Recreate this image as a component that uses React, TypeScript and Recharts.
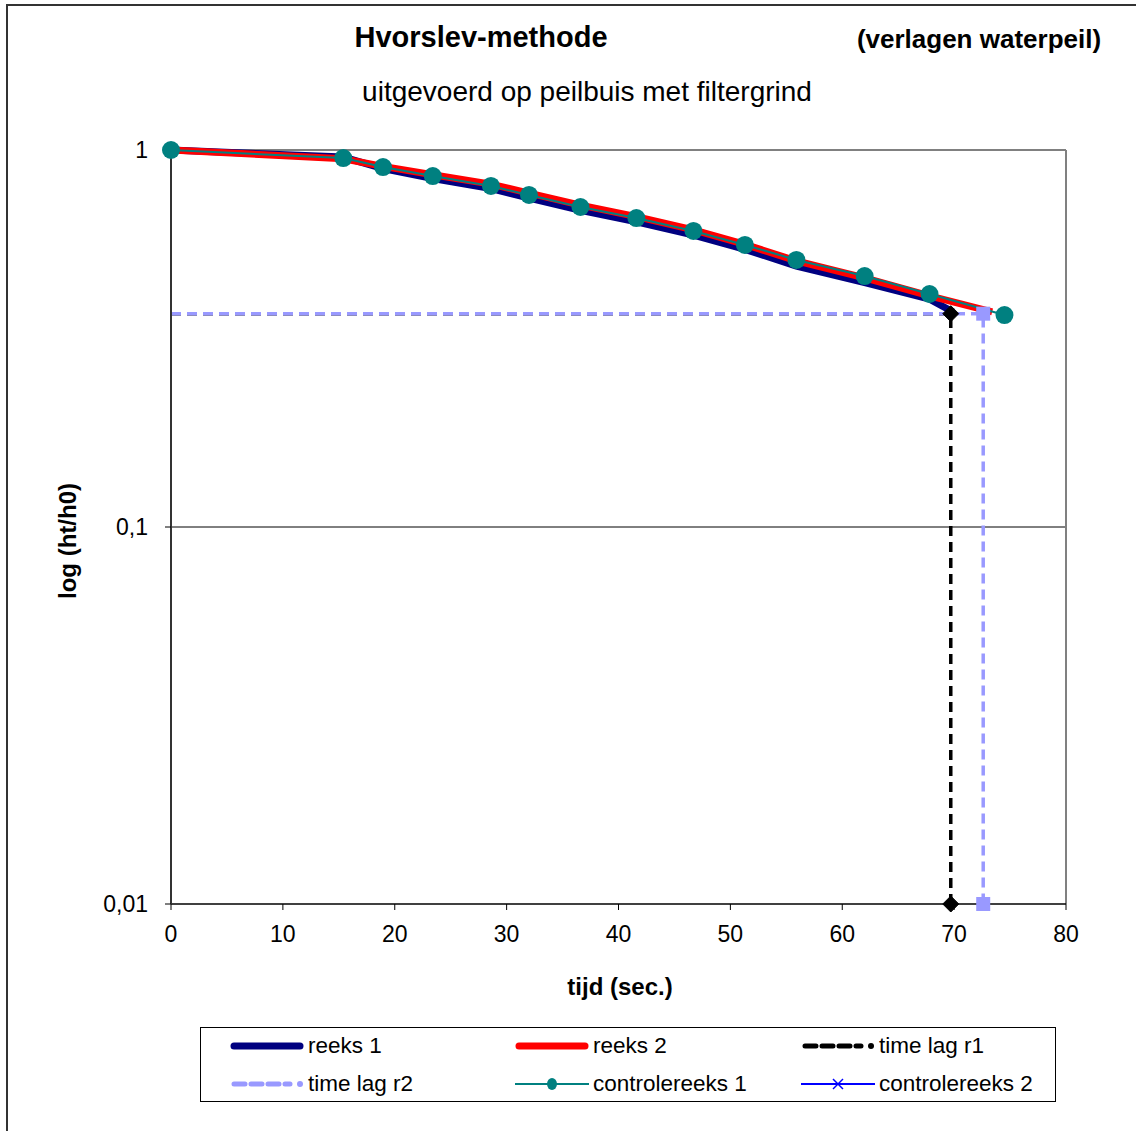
import React from 'react';
import { LineChart, Line, XAxis, YAxis, ReferenceLine } from 'recharts';

const xTicks = [0, 10, 20, 30, 40, 50, 60, 70, 80];
const yTicks = [0.01, 0.1, 1];

const timesC1 = [0, 15.4, 18.95, 23.4, 28.6, 32.0, 36.6, 41.6, 46.7, 51.3, 55.9, 62.0, 67.8, 74.5];
const controle1 = [1, 0.952, 0.901, 0.853, 0.803, 0.760, 0.706, 0.660, 0.610, 0.560, 0.511, 0.463, 0.415, 0.365];

const timesR1 = [0, 15.4, 18.95, 23.4, 28.6, 32.0, 36.6, 41.6, 46.7, 51.3, 55.9, 62.0, 67.8, 69.9];
const reeks1 = [1, 0.958, 0.893, 0.84, 0.79, 0.746, 0.692, 0.645, 0.595, 0.545, 0.492, 0.445, 0.402, 0.372];

const timesR2 = [0, 15.4, 18.95, 23.4, 28.6, 32.0, 36.6, 41.6, 46.7, 51.3, 55.9, 62.0, 67.8, 73.4];
const reeks2 = [1, 0.948, 0.905, 0.86, 0.812, 0.768, 0.714, 0.666, 0.614, 0.562, 0.508, 0.458, 0.41, 0.372];

const lagR1X = [0, 69.7, 69.7];
const lagR1Y = [0.368, 0.368, 0.01];
const lagR2X = [0, 72.6, 72.6];
const lagR2Y = [0.368, 0.368, 0.01];

const toPts = (xs: number[], ys: number[]) => xs.map((x, i) => ({ x, y: ys[i] }));

const dataR1 = toPts(timesR1, reeks1);
const dataR2 = toPts(timesR2, reeks2);
const dataC1 = toPts(timesC1, controle1);
const dataL1 = toPts(lagR1X, lagR1Y);
const dataL2 = toPts(lagR2X, lagR2Y);

const FONT = '"Liberation Sans", Arial, sans-serif';

const DiamondDot = (props: any) => {
  const { cx, cy, index } = props;
  if (index === 0 || cx == null) return <g key={`d${index}`} />;
  const s = 8;
  return (
    <path
      key={`d${index}`}
      d={`M${cx},${cy - s} L${cx + s},${cy} L${cx},${cy + s} L${cx - s},${cy} Z`}
      fill="#000"
      stroke="#000"
    />
  );
};

const SquareDot = (props: any) => {
  const { cx, cy, index } = props;
  if (index === 0 || cx == null) return <g key={`s${index}`} />;
  const s = 7;
  return <rect key={`s${index}`} x={cx - s} y={cy - s} width={2 * s} height={2 * s} fill="#9999FF" />;
};

const legendItems = [
  { label: 'reeks 1', kind: 'thick', color: '#000080' },
  { label: 'reeks 2', kind: 'thick', color: '#FF0000' },
  { label: 'time lag r1', kind: 'dash', color: '#000000' },
  { label: 'time lag r2', kind: 'dash', color: '#9999FF' },
  { label: 'controlereeks 1', kind: 'circle', color: '#008080' },
  { label: 'controlereeks 2', kind: 'cross', color: '#0000FF' },
];

const Swatch = ({ kind, color }: { kind: string; color: string }) => (
  <svg width={74} height={16} style={{ display: 'block' }}>
    {kind === 'thick' && (
      <line x1={4} y1={8} x2={70} y2={8} stroke={color} strokeWidth={7} strokeLinecap="round" />
    )}
    {kind === 'dash' && (
      <g>
        <line x1={4} y1={8} x2={60} y2={8} stroke={color} strokeWidth={5} strokeDasharray="11 6" strokeLinecap="round" />
        <circle cx={70} cy={8} r={3} fill={color} />
      </g>
    )}
    {kind === 'circle' && (
      <g>
        <line x1={0} y1={8} x2={74} y2={8} stroke={color} strokeWidth={2} />
        <ellipse cx={37} cy={8} rx={5} ry={6} fill={color} />
      </g>
    )}
    {kind === 'cross' && (
      <g>
        <line x1={0} y1={8} x2={74} y2={8} stroke={color} strokeWidth={2} />
        <line x1={32} y1={3} x2={42} y2={13} stroke={color} strokeWidth={1.5} />
        <line x1={42} y1={3} x2={32} y2={13} stroke={color} strokeWidth={1.5} />
      </g>
    )}
  </svg>
);

const legendPos = [
  { left: 230, top: 1038 },
  { left: 515, top: 1038 },
  { left: 801, top: 1038 },
  { left: 230, top: 1076 },
  { left: 515, top: 1076 },
  { left: 801, top: 1076 },
];

export default function App() {
  return (
    <div style={{ position: 'absolute', left: 0, top: 0, width: 1136, height: 1131, background: '#fff', overflow: 'hidden', fontFamily: FONT }}>
      <div style={{ position: 'absolute', left: 6, top: 4, width: 1200, height: 1200, borderLeft: '2px solid #333', borderTop: '2px solid #333' }} />
      <div style={{ position: 'absolute', left: 481, top: 37, transform: 'translate(-50%, -50%)', fontSize: 29, fontWeight: 'bold', whiteSpace: 'nowrap' }}>
        Hvorslev-methode
      </div>
      <div style={{ position: 'absolute', left: 979, top: 39, transform: 'translate(-50%, -50%)', fontSize: 26, fontWeight: 'bold', whiteSpace: 'nowrap' }}>
        (verlagen waterpeil)
      </div>
      <div style={{ position: 'absolute', left: 587, top: 92, transform: 'translate(-50%, -50%)', fontSize: 28, whiteSpace: 'nowrap' }}>
        uitgevoerd op peilbuis met filtergrind
      </div>
      <div style={{ position: 'absolute', left: 68, top: 541, transform: 'translate(-50%, -50%) rotate(-90deg)', fontSize: 24, fontWeight: 'bold', whiteSpace: 'nowrap' }}>
        log (ht/h0)
      </div>
      <div style={{ position: 'absolute', left: 620, top: 987, transform: 'translate(-50%, -50%)', fontSize: 24, fontWeight: 'bold', whiteSpace: 'nowrap' }}>
        tijd (sec.)
      </div>

      <div style={{ position: 'absolute', left: 0, top: 0 }}>
        <LineChart width={1136} height={1131} margin={{ top: 150, right: 70, bottom: 197, left: 111 }}>
          <XAxis
            dataKey="x"
            type="number"
            domain={[0, 80]}
            ticks={xTicks}
            height={30}
            stroke="#000"
            tickSize={6}
            tickMargin={16}
            tick={{ fill: '#000', fontSize: 23, fontFamily: FONT }}
            tickLine={{ stroke: '#000' }}
            axisLine={{ stroke: '#000', strokeWidth: 1.5 }}
          />
          <YAxis
            dataKey="y"
            type="number"
            scale="log"
            domain={[0.01, 1]}
            ticks={yTicks}
            width={60}
            stroke="#000"
            tickSize={6}
            tickMargin={17}
            tickFormatter={(v: number) => String(v).replace('.', ',')}
            tick={{ fill: '#000', fontSize: 23, fontFamily: FONT }}
            tickLine={{ stroke: '#000' }}
            axisLine={{ stroke: '#333', strokeWidth: 2 }}
          />
          <ReferenceLine y={0.1} stroke="#000" strokeWidth={1} />
          <ReferenceLine y={1} stroke="#808080" strokeWidth={2} />
          <ReferenceLine x={80} stroke="#808080" strokeWidth={2} />
          <Line data={dataR1} dataKey="y" type="linear" stroke="#000080" strokeWidth={7} dot={false} isAnimationActive={false} name="reeks 1" />
          <Line data={dataR2} dataKey="y" type="linear" stroke="#FF0000" strokeWidth={7} dot={false} isAnimationActive={false} name="reeks 2" />
          <Line data={dataL1} dataKey="y" type="linear" stroke="#000000" strokeWidth={3.5} strokeDasharray="10 6" dot={DiamondDot} isAnimationActive={false} name="time lag r1" />
          <Line data={dataL2} dataKey="y" type="linear" stroke="#9999FF" strokeWidth={3.5} strokeDasharray="10 6" dot={SquareDot} isAnimationActive={false} name="time lag r2" />
          <Line data={dataC1} dataKey="y" type="linear" stroke="#008080" strokeWidth={2} dot={{ r: 9, fill: '#008080', stroke: '#008080', strokeWidth: 0 }} isAnimationActive={false} name="controlereeks 1" />
        </LineChart>
      </div>

      <div style={{ position: 'absolute', left: 200, top: 1027, width: 856, height: 75, border: '1px solid #000', boxSizing: 'border-box' }} />
      {legendItems.map((it, i) => (
        <div key={it.label} style={{ position: 'absolute', left: legendPos[i].left, top: legendPos[i].top, display: 'flex', alignItems: 'center', height: 16 }}>
          <Swatch kind={it.kind} color={it.color} />
          <span style={{ fontSize: 22.5, marginLeft: 4, whiteSpace: 'nowrap', lineHeight: '16px' }}>{it.label}</span>
        </div>
      ))}
    </div>
  );
}
